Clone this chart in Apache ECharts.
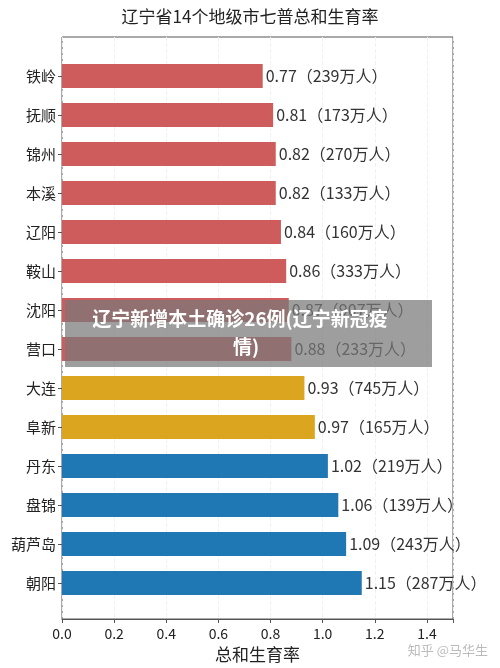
<!DOCTYPE html><html><head><meta charset="utf-8"><script src="https://cdn.jsdelivr.net/npm/echarts@6/dist/echarts.min.js"></script></head><body style="margin:0"><div id="c" style="width:500px;height:668px"></div><script>
const cities=['铁岭','抚顺','锦州','本溪','辽阳','鞍山','沈阳','营口','大连','阜新','丹东','盘锦','葫芦岛','朝阳'];
const rates=[0.77,0.81,0.82,0.82,0.84,0.86,0.87,0.88,0.93,0.97,1.02,1.06,1.09,1.15];
const pops=[239,173,270,133,160,333,907,233,745,165,219,139,243,287];
const groups=['r','r','r','r','r','r','r','r','y','y','b','b','b','b'];
const xTicks=[0,0.2,0.4,0.6,0.8,1.0,1.2,1.4];
const colors={r:'#CE5C5C',y:'#DBA520',b:'#1F77B4'};
const F='"Noto Sans CJK SC",sans-serif';
const ch=echarts.init(document.getElementById('c'));
ch.setOption({
 title:{text:'辽宁省14个地级市七普总和生育率',left:'center',top:3,textStyle:{fontFamily:F,fontSize:17,fontWeight:'normal',color:'#222'}},
 grid:[{left:62,right:47,top:37,bottom:46,show:true,borderColor:'#555',borderWidth:1},{left:62,right:47,top:56.5,bottom:65.5}],
 xAxis:[{gridIndex:0,type:'value',min:0,max:1.5,interval:0.2,axisLine:{lineStyle:{color:'#555'}},axisTick:{show:true,length:4,lineStyle:{color:'#555'}},
   axisLabel:{fontFamily:F,fontSize:14,color:'#222',formatter:v=>v>1.45?'':v.toFixed(1)},splitLine:{show:true,lineStyle:{color:'#f0f0f0',type:'dashed'}},
   name:'总和生育率',nameLocation:'middle',nameGap:27,nameTextStyle:{fontFamily:F,fontSize:17,color:'#222'}},
  {gridIndex:1,type:'value',min:0,max:1.5,show:false}],
 yAxis:[{gridIndex:0,type:'value',show:false},{gridIndex:1,type:'category',inverse:true,data:cities,axisLine:{show:false},axisTick:{show:true,alignWithLabel:true,length:4,lineStyle:{color:'#555'}},
   axisLabel:{fontFamily:F,fontSize:15,color:'#222',margin:6}}],
 series:[{type:'bar',xAxisIndex:1,yAxisIndex:1,barWidth:24,data:rates.map((v,i)=>({value:v,itemStyle:{color:colors[groups[i]]}})),
   label:{show:true,position:'right',distance:3,fontFamily:F,fontSize:16,color:'#333',formatter:p=>p.value.toFixed(2)+'（'+pops[p.dataIndex]+'万人）'}}],
 graphic:[{type:'rect',shape:{x:65,y:300,width:367,height:67},style:{fill:'rgba(120,120,120,0.72)'},z:100},
  {type:'text',x:240,y:319,style:{text:'辽宁新增本土确诊26例(辽宁新冠疫',fill:'#fff',font:'bold 19px "Noto Sans CJK SC"',align:'center',verticalAlign:'middle'},z:101},
  {type:'text',x:246,y:347,style:{text:'情)',fill:'#fff',font:'bold 19px "Noto Sans CJK SC"',align:'center',verticalAlign:'middle'},z:101},
  {type:'text',x:488,y:650,style:{text:'知乎 @马华生',fill:'#bbb',font:'13px "Noto Sans CJK SC"',align:'right',verticalAlign:'middle'},z:101}]
});
</script></body></html>
